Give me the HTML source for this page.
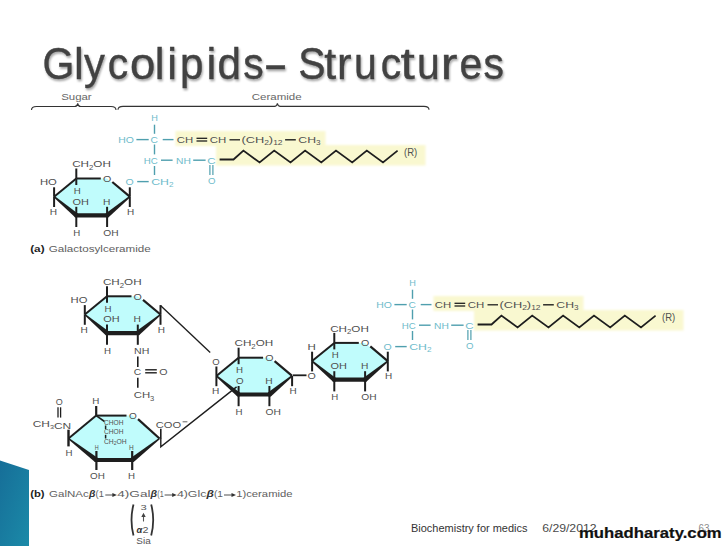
<!DOCTYPE html>
<html><head><meta charset="utf-8"><style>
html,body{margin:0;padding:0;background:#fff;}
body{width:728px;height:546px;overflow:hidden;position:relative;font-family:"Liberation Sans", sans-serif;}
svg{position:absolute;left:0;top:0;}
</style></head><body>
<svg width="728" height="546" viewBox="0 0 728 546" font-family='"Liberation Sans", sans-serif'>
<defs>
<linearGradient id="teal" x1="0" y1="0" x2="1" y2="1">
<stop offset="0" stop-color="#166e98"/><stop offset="1" stop-color="#1b8aa8"/>
</linearGradient>
<filter id="sh" x="-5%" y="-20%" width="110%" height="140%"><feGaussianBlur in="SourceAlpha" stdDeviation="1.2"/><feOffset dx="1" dy="2"/><feComponentTransfer><feFuncA type="linear" slope="0.35"/></feComponentTransfer><feMerge><feMergeNode/><feMergeNode in="SourceGraphic"/></feMerge></filter>
<filter id="yb" x="-5%" y="-30%" width="110%" height="160%"><feGaussianBlur stdDeviation="1.3"/></filter>
</defs>

<polygon points="0,460.5 29,470 29,546 0,546" fill="url(#teal)"/>
<g filter="url(#sh)" fill="#424242" stroke="#424242" stroke-width="0.4" font-size="44">
<text transform="translate(42.41,78.5) scale(0.930,1)">G</text>
<text transform="translate(73.90,78.5) scale(1.000,1)">l</text>
<text transform="translate(84.01,78.5) scale(0.949,1)">y</text>
<text transform="translate(107.79,78.5) scale(0.930,1)">c</text>
<text transform="translate(130.04,78.5) scale(1.034,1)">o</text>
<text transform="translate(154.65,78.5) scale(1.000,1)">l</text>
<text transform="translate(167.25,78.5) scale(1.000,1)">i</text>
<text transform="translate(180.01,78.5) scale(0.959,1)">p</text>
<text transform="translate(206.55,78.5) scale(1.000,1)">i</text>
<text transform="translate(217.57,78.5) scale(0.959,1)">d</text>
<text transform="translate(243.30,78.5) scale(0.930,1)">s</text>
<text transform="translate(263.32,78.5) scale(1.689,1)">-</text>
<text transform="translate(298.27,78.5) scale(0.930,1)">S</text>
<text transform="translate(324.32,78.5) scale(0.973,1)">t</text>
<text transform="translate(336.93,78.5) scale(0.991,1)">r</text>
<text transform="translate(354.10,78.5) scale(0.930,1)">u</text>
<text transform="translate(380.64,78.5) scale(0.930,1)">c</text>
<text transform="translate(400.58,78.5) scale(1.171,1)">t</text>
<text transform="translate(417.10,78.5) scale(0.930,1)">u</text>
<text transform="translate(440.80,78.5) scale(1.138,1)">r</text>
<text transform="translate(459.60,78.5) scale(0.930,1)">e</text>
<text transform="translate(483.55,78.5) scale(0.930,1)">s</text>
</g>
<path d="M31.5,110.0 Q31.5,106.5 36.5,106.5 L74.7,106.5 Q77.2,106.5 77.7,103.3 Q78.2,106.5 80.7,106.5 L111,106.5 Q116,106.5 116,110.0" fill="none" stroke="#333" stroke-width="1.1"/>
<path d="M118,109.8 Q118,106.4 123,106.4 L274.4,106.4 Q276.9,106.4 277.4,103.4 Q277.9,106.4 280.4,106.4 L424,106.4 Q429,106.4 429,109.8" fill="none" stroke="#333" stroke-width="1.1"/>
<text x="61.2" y="100.0" font-size="9.5" fill="#666" font-weight="normal" textLength="30.5" lengthAdjust="spacingAndGlyphs" >Sugar</text>
<text x="251.7" y="100.1" font-size="9.5" fill="#666" font-weight="normal" textLength="49.9" lengthAdjust="spacingAndGlyphs" >Ceramide</text>
<g filter="url(#yb)"><rect x="175.5" y="131" width="150" height="15" fill="#f9f8d0"/>
<rect x="216" y="145" width="209.5" height="20.5" fill="#f9f8d0"/></g>
<text x="151.2" y="121.4" font-size="9.8" fill="#6fbccb" font-weight="normal" textLength="6.6" lengthAdjust="spacingAndGlyphs" >H</text>
<line x1="154.5" y1="124.7" x2="154.5" y2="133.8" stroke="#4f9fae" stroke-width="1.4" stroke-linecap="butt"/>
<text x="118.2" y="142.9" font-size="9.8" fill="#6fbccb" font-weight="normal" textLength="15.7" lengthAdjust="spacingAndGlyphs" >HO</text>
<line x1="136.4" y1="139.6" x2="148.7" y2="139.6" stroke="#4f9fae" stroke-width="1.4" stroke-linecap="butt"/>
<text x="150.4" y="142.9" font-size="9.8" fill="#6fbccb" font-weight="normal" textLength="7.4" lengthAdjust="spacingAndGlyphs" >C</text>
<line x1="162.7" y1="139.6" x2="173.5" y2="139.6" stroke="#4f9fae" stroke-width="1.4" stroke-linecap="butt"/>
<text x="176.8" y="142.9" font-size="9.8" fill="#505050" font-weight="normal" textLength="16.4" lengthAdjust="spacingAndGlyphs" >CH</text>
<line x1="196.5" y1="138.3" x2="207.2" y2="138.3" stroke="#1e1e1e" stroke-width="1.3" stroke-linecap="butt"/>
<line x1="196.5" y1="141.0" x2="207.2" y2="141.0" stroke="#1e1e1e" stroke-width="1.3" stroke-linecap="butt"/>
<text x="209.7" y="142.9" font-size="9.8" fill="#505050" font-weight="normal" textLength="16.5" lengthAdjust="spacingAndGlyphs" >CH</text>
<line x1="229.5" y1="139.8" x2="240.0" y2="139.8" stroke="#1e1e1e" stroke-width="1.3" stroke-linecap="butt"/>
<text x="241.4" y="142.9" font-size="9.8" fill="#505050" font-weight="normal" textLength="41.2" lengthAdjust="spacingAndGlyphs" >(CH<tspan dy="2.5" font-size="6.5">2</tspan><tspan dy="-2.5">)<tspan dy="2.5" font-size="6.5">12</tspan><tspan dy="-2.5"></tspan></tspan></text>
<line x1="285.1" y1="139.8" x2="295.8" y2="139.8" stroke="#1e1e1e" stroke-width="1.4" stroke-linecap="butt"/>
<text x="298.3" y="142.9" font-size="9.8" fill="#505050" font-weight="normal" textLength="22.2" lengthAdjust="spacingAndGlyphs" >CH<tspan dy="2.5" font-size="6.5">3</tspan><tspan dy="-2.5"></tspan></text>
<line x1="154.5" y1="144.5" x2="154.5" y2="154.4" stroke="#4f9fae" stroke-width="1.4" stroke-linecap="butt"/>
<text x="143.8" y="163.5" font-size="9.8" fill="#6fbccb" font-weight="normal" textLength="14.0" lengthAdjust="spacingAndGlyphs" >HC</text>
<line x1="161.0" y1="160.2" x2="172.6" y2="160.2" stroke="#4f9fae" stroke-width="1.4" stroke-linecap="butt"/>
<text x="176.0" y="163.5" font-size="9.8" fill="#6fbccb" font-weight="normal" textLength="14.8" lengthAdjust="spacingAndGlyphs" >NH</text>
<line x1="193.2" y1="160.2" x2="205.6" y2="160.2" stroke="#4f9fae" stroke-width="1.4" stroke-linecap="butt"/>
<text x="207.2" y="163.5" font-size="9.8" fill="#6fbccb" font-weight="normal" textLength="8.3" lengthAdjust="spacingAndGlyphs" >C</text>
<line x1="209.9" y1="165.1" x2="209.9" y2="175.0" stroke="#4f9fae" stroke-width="1.2" stroke-linecap="butt"/>
<line x1="212.9" y1="165.1" x2="212.9" y2="175.0" stroke="#4f9fae" stroke-width="1.2" stroke-linecap="butt"/>
<text x="208.0" y="184.0" font-size="9.8" fill="#6fbccb" font-weight="normal" textLength="7.5" lengthAdjust="spacingAndGlyphs" >O</text>
<line x1="154.5" y1="166.0" x2="154.5" y2="175.0" stroke="#4f9fae" stroke-width="1.4" stroke-linecap="butt"/>
<line x1="137.2" y1="181.6" x2="148.7" y2="181.6" stroke="#4f9fae" stroke-width="1.4" stroke-linecap="butt"/>
<text x="151.2" y="184.9" font-size="9.8" fill="#6fbccb" font-weight="normal" textLength="22.3" lengthAdjust="spacingAndGlyphs" >CH<tspan dy="2.5" font-size="6.5">2</tspan><tspan dy="-2.5"></tspan></text>
<path d="M219.6,159.5 L233.5,159.5 L243.4,150.6 L259.6,162.4 L274.2,150.6 L290.5,162.4 L305.1,150.6 L321.3,162.4 L336.0,150.6 L352.2,162.4 L366.8,150.6 L383.0,162.4 L397.6,150.6" fill="none" stroke="#1e1e1e" stroke-width="1.8" stroke-linejoin="miter"/>
<text x="404.0" y="155.8" font-size="10.5" fill="#505050" font-weight="normal" textLength="13.2" lengthAdjust="spacingAndGlyphs" >(R)</text>
<polygon points="76.3,178.5 106.8,178.5 129.8,196.7 107.1,215.3 76.3,215.3 54.1,196.7" fill="#c0fcfc"/>
<line x1="76.3" y1="178.5" x2="100.8" y2="178.5" stroke="#1e1e1e" stroke-width="2.0" stroke-linecap="butt"/>
<line x1="112.3" y1="182.0" x2="129.8" y2="196.7" stroke="#1e1e1e" stroke-width="2.2" stroke-linecap="butt"/>
<polygon points="129.3,196.1 105.6,213.4 108.6,217.2 130.3,197.3" fill="#1e1e1e"/>
<line x1="108.6" y1="215.3" x2="74.8" y2="215.3" stroke="#1e1e1e" stroke-width="4.2" stroke-linecap="butt"/>
<polygon points="77.8,213.5 54.6,196.1 53.6,197.3 74.8,217.1" fill="#1e1e1e"/>
<line x1="54.1" y1="196.7" x2="76.3" y2="178.5" stroke="#1e1e1e" stroke-width="2.0" stroke-linecap="butt"/>
<circle cx="107.1" cy="215.3" r="2.1" fill="#1e1e1e"/>
<circle cx="76.3" cy="215.3" r="2.1" fill="#1e1e1e"/>
<text x="102.9" y="181.9" font-size="9.8" fill="#505050" font-weight="normal" textLength="8.3" lengthAdjust="spacingAndGlyphs" >O</text>
<line x1="76.3" y1="168.5" x2="76.3" y2="178.5" stroke="#1e1e1e" stroke-width="2.0" stroke-linecap="butt"/>
<line x1="76.3" y1="178.5" x2="76.3" y2="185.0" stroke="#1e1e1e" stroke-width="2.0" stroke-linecap="butt"/>
<line x1="54.1" y1="187.3" x2="54.1" y2="196.7" stroke="#1e1e1e" stroke-width="2.0" stroke-linecap="butt"/>
<line x1="54.1" y1="196.7" x2="54.1" y2="207.0" stroke="#1e1e1e" stroke-width="2.0" stroke-linecap="butt"/>
<line x1="129.8" y1="187.3" x2="129.8" y2="196.7" stroke="#1e1e1e" stroke-width="2.0" stroke-linecap="butt"/>
<line x1="129.8" y1="196.7" x2="129.8" y2="207.0" stroke="#1e1e1e" stroke-width="2.0" stroke-linecap="butt"/>
<line x1="76.3" y1="206.8" x2="76.3" y2="215.3" stroke="#1e1e1e" stroke-width="2.0" stroke-linecap="butt"/>
<line x1="76.3" y1="215.3" x2="76.3" y2="227.0" stroke="#1e1e1e" stroke-width="2.0" stroke-linecap="butt"/>
<line x1="107.1" y1="206.8" x2="107.1" y2="215.3" stroke="#1e1e1e" stroke-width="2.0" stroke-linecap="butt"/>
<line x1="107.1" y1="215.3" x2="107.1" y2="227.0" stroke="#1e1e1e" stroke-width="2.0" stroke-linecap="butt"/>
<text x="72.2" y="167.2" font-size="9.8" fill="#505050" font-weight="normal" textLength="38.7" lengthAdjust="spacingAndGlyphs" >CH<tspan dy="2.5" font-size="6.5">2</tspan><tspan dy="-2.5">OH</tspan></text>
<text x="39.9" y="185.3" font-size="9.8" fill="#505050" font-weight="normal" textLength="16.9" lengthAdjust="spacingAndGlyphs" >HO</text>
<text x="49.8" y="215.0" font-size="9.8" fill="#505050" font-weight="normal" textLength="7.3" lengthAdjust="spacingAndGlyphs" >H</text>
<text x="73.7" y="193.9" font-size="9.8" fill="#505050" font-weight="normal" textLength="7.0" lengthAdjust="spacingAndGlyphs" >H</text>
<text x="72.5" y="204.6" font-size="9.8" fill="#505050" font-weight="normal" textLength="16.4" lengthAdjust="spacingAndGlyphs" >OH</text>
<text x="102.9" y="204.6" font-size="9.8" fill="#505050" font-weight="normal" textLength="7.4" lengthAdjust="spacingAndGlyphs" >H</text>
<text x="127.1" y="215.0" font-size="9.8" fill="#505050" font-weight="normal" textLength="7.2" lengthAdjust="spacingAndGlyphs" >H</text>
<text x="73.3" y="235.9" font-size="9.8" fill="#505050" font-weight="normal" textLength="7.0" lengthAdjust="spacingAndGlyphs" >H</text>
<text x="103.3" y="235.9" font-size="9.8" fill="#505050" font-weight="normal" textLength="15.3" lengthAdjust="spacingAndGlyphs" >OH</text>
<text x="125.5" y="185.3" font-size="9.8" fill="#6fbccb" font-weight="normal" textLength="8.2" lengthAdjust="spacingAndGlyphs" >O</text>
<text x="30.2" y="252.3" font-size="9.5" fill="#222" font-weight="bold" textLength="14.4" lengthAdjust="spacingAndGlyphs" >(a)</text>
<text x="48.7" y="252.4" font-size="9.5" fill="#606060" font-weight="normal" textLength="102.0" lengthAdjust="spacingAndGlyphs" >Galactosylceramide</text>
<g filter="url(#yb)"><rect x="433.5" y="296" width="150" height="15" fill="#f9f8d0"/>
<rect x="474" y="310" width="209.5" height="20.5" fill="#f9f8d0"/></g>
<text x="409.2" y="286.4" font-size="9.8" fill="#6fbccb" font-weight="normal" textLength="6.6" lengthAdjust="spacingAndGlyphs" >H</text>
<line x1="412.5" y1="289.7" x2="412.5" y2="298.8" stroke="#4f9fae" stroke-width="1.4" stroke-linecap="butt"/>
<text x="376.2" y="307.9" font-size="9.8" fill="#6fbccb" font-weight="normal" textLength="15.7" lengthAdjust="spacingAndGlyphs" >HO</text>
<line x1="394.4" y1="304.6" x2="406.7" y2="304.6" stroke="#4f9fae" stroke-width="1.4" stroke-linecap="butt"/>
<text x="408.4" y="307.9" font-size="9.8" fill="#6fbccb" font-weight="normal" textLength="7.4" lengthAdjust="spacingAndGlyphs" >C</text>
<line x1="420.7" y1="304.6" x2="431.5" y2="304.6" stroke="#4f9fae" stroke-width="1.4" stroke-linecap="butt"/>
<text x="434.8" y="307.9" font-size="9.8" fill="#505050" font-weight="normal" textLength="16.4" lengthAdjust="spacingAndGlyphs" >CH</text>
<line x1="454.5" y1="303.3" x2="465.2" y2="303.3" stroke="#1e1e1e" stroke-width="1.3" stroke-linecap="butt"/>
<line x1="454.5" y1="306.0" x2="465.2" y2="306.0" stroke="#1e1e1e" stroke-width="1.3" stroke-linecap="butt"/>
<text x="467.7" y="307.9" font-size="9.8" fill="#505050" font-weight="normal" textLength="16.5" lengthAdjust="spacingAndGlyphs" >CH</text>
<line x1="487.5" y1="304.8" x2="498.0" y2="304.8" stroke="#1e1e1e" stroke-width="1.3" stroke-linecap="butt"/>
<text x="499.4" y="307.9" font-size="9.8" fill="#505050" font-weight="normal" textLength="41.2" lengthAdjust="spacingAndGlyphs" >(CH<tspan dy="2.5" font-size="6.5">2</tspan><tspan dy="-2.5">)<tspan dy="2.5" font-size="6.5">12</tspan><tspan dy="-2.5"></tspan></tspan></text>
<line x1="543.1" y1="304.8" x2="553.8" y2="304.8" stroke="#1e1e1e" stroke-width="1.4" stroke-linecap="butt"/>
<text x="556.3" y="307.9" font-size="9.8" fill="#505050" font-weight="normal" textLength="22.2" lengthAdjust="spacingAndGlyphs" >CH<tspan dy="2.5" font-size="6.5">3</tspan><tspan dy="-2.5"></tspan></text>
<line x1="412.5" y1="309.5" x2="412.5" y2="319.4" stroke="#4f9fae" stroke-width="1.4" stroke-linecap="butt"/>
<text x="401.8" y="328.5" font-size="9.8" fill="#6fbccb" font-weight="normal" textLength="14.0" lengthAdjust="spacingAndGlyphs" >HC</text>
<line x1="419.0" y1="325.2" x2="430.6" y2="325.2" stroke="#4f9fae" stroke-width="1.4" stroke-linecap="butt"/>
<text x="434.0" y="328.5" font-size="9.8" fill="#6fbccb" font-weight="normal" textLength="14.8" lengthAdjust="spacingAndGlyphs" >NH</text>
<line x1="451.2" y1="325.2" x2="463.6" y2="325.2" stroke="#4f9fae" stroke-width="1.4" stroke-linecap="butt"/>
<text x="465.2" y="328.5" font-size="9.8" fill="#6fbccb" font-weight="normal" textLength="8.3" lengthAdjust="spacingAndGlyphs" >C</text>
<line x1="467.9" y1="330.1" x2="467.9" y2="340.0" stroke="#4f9fae" stroke-width="1.2" stroke-linecap="butt"/>
<line x1="470.9" y1="330.1" x2="470.9" y2="340.0" stroke="#4f9fae" stroke-width="1.2" stroke-linecap="butt"/>
<text x="466.0" y="349.0" font-size="9.8" fill="#6fbccb" font-weight="normal" textLength="7.5" lengthAdjust="spacingAndGlyphs" >O</text>
<line x1="412.5" y1="331.0" x2="412.5" y2="340.0" stroke="#4f9fae" stroke-width="1.4" stroke-linecap="butt"/>
<line x1="395.2" y1="346.6" x2="406.7" y2="346.6" stroke="#4f9fae" stroke-width="1.4" stroke-linecap="butt"/>
<text x="409.2" y="349.9" font-size="9.8" fill="#6fbccb" font-weight="normal" textLength="22.3" lengthAdjust="spacingAndGlyphs" >CH<tspan dy="2.5" font-size="6.5">2</tspan><tspan dy="-2.5"></tspan></text>
<path d="M477.6,324.5 L491.5,324.5 L501.4,315.6 L517.6,327.4 L532.2,315.6 L548.5,327.4 L563.1,315.6 L579.3,327.4 L594.0,315.6 L610.2,327.4 L624.8,315.6 L641.0,327.4 L655.6,315.6" fill="none" stroke="#1e1e1e" stroke-width="1.8" stroke-linejoin="miter"/>
<text x="662.0" y="320.8" font-size="10.5" fill="#505050" font-weight="normal" textLength="13.2" lengthAdjust="spacingAndGlyphs" >(R)</text>
<polygon points="334.3,342.9 364.8,342.9 387.8,361.1 365.1,379.7 334.3,379.7 312.1,361.1" fill="#c0fcfc"/>
<line x1="334.3" y1="342.9" x2="358.8" y2="342.9" stroke="#1e1e1e" stroke-width="2.0" stroke-linecap="butt"/>
<line x1="370.3" y1="346.4" x2="387.8" y2="361.1" stroke="#1e1e1e" stroke-width="2.2" stroke-linecap="butt"/>
<polygon points="387.3,360.5 363.6,377.8 366.6,381.6 388.3,361.7" fill="#1e1e1e"/>
<line x1="366.6" y1="379.7" x2="332.8" y2="379.7" stroke="#1e1e1e" stroke-width="4.2" stroke-linecap="butt"/>
<polygon points="335.8,377.9 312.6,360.5 311.6,361.7 332.8,381.5" fill="#1e1e1e"/>
<line x1="312.1" y1="361.1" x2="334.3" y2="342.9" stroke="#1e1e1e" stroke-width="2.0" stroke-linecap="butt"/>
<circle cx="365.1" cy="379.7" r="2.1" fill="#1e1e1e"/>
<circle cx="334.3" cy="379.7" r="2.1" fill="#1e1e1e"/>
<text x="360.9" y="346.3" font-size="9.8" fill="#505050" font-weight="normal" textLength="8.3" lengthAdjust="spacingAndGlyphs" >O</text>
<line x1="334.3" y1="332.9" x2="334.3" y2="342.9" stroke="#1e1e1e" stroke-width="2.0" stroke-linecap="butt"/>
<line x1="334.3" y1="342.9" x2="334.3" y2="349.4" stroke="#1e1e1e" stroke-width="2.0" stroke-linecap="butt"/>
<line x1="312.1" y1="351.7" x2="312.1" y2="361.1" stroke="#1e1e1e" stroke-width="2.0" stroke-linecap="butt"/>
<line x1="312.1" y1="361.1" x2="312.1" y2="371.4" stroke="#1e1e1e" stroke-width="2.0" stroke-linecap="butt"/>
<line x1="387.8" y1="351.7" x2="387.8" y2="361.1" stroke="#1e1e1e" stroke-width="2.0" stroke-linecap="butt"/>
<line x1="387.8" y1="361.1" x2="387.8" y2="371.4" stroke="#1e1e1e" stroke-width="2.0" stroke-linecap="butt"/>
<line x1="334.3" y1="371.2" x2="334.3" y2="379.7" stroke="#1e1e1e" stroke-width="2.0" stroke-linecap="butt"/>
<line x1="334.3" y1="379.7" x2="334.3" y2="391.4" stroke="#1e1e1e" stroke-width="2.0" stroke-linecap="butt"/>
<line x1="365.1" y1="371.2" x2="365.1" y2="379.7" stroke="#1e1e1e" stroke-width="2.0" stroke-linecap="butt"/>
<line x1="365.1" y1="379.7" x2="365.1" y2="391.4" stroke="#1e1e1e" stroke-width="2.0" stroke-linecap="butt"/>
<text x="330.2" y="331.6" font-size="9.8" fill="#505050" font-weight="normal" textLength="38.7" lengthAdjust="spacingAndGlyphs" >CH<tspan dy="2.5" font-size="6.5">2</tspan><tspan dy="-2.5">OH</tspan></text>
<text x="307.5" y="349.7" font-size="9.8" fill="#505050" font-weight="normal" textLength="8.3" lengthAdjust="spacingAndGlyphs" >H</text>
<text x="307.5" y="379.4" font-size="9.8" fill="#505050" font-weight="normal" textLength="8.3" lengthAdjust="spacingAndGlyphs" >O</text>
<text x="331.7" y="358.3" font-size="9.8" fill="#505050" font-weight="normal" textLength="7.0" lengthAdjust="spacingAndGlyphs" >H</text>
<text x="330.5" y="369.0" font-size="9.8" fill="#505050" font-weight="normal" textLength="16.4" lengthAdjust="spacingAndGlyphs" >OH</text>
<text x="360.9" y="369.0" font-size="9.8" fill="#505050" font-weight="normal" textLength="7.4" lengthAdjust="spacingAndGlyphs" >H</text>
<text x="385.1" y="379.4" font-size="9.8" fill="#505050" font-weight="normal" textLength="7.2" lengthAdjust="spacingAndGlyphs" >H</text>
<text x="331.3" y="400.3" font-size="9.8" fill="#505050" font-weight="normal" textLength="7.0" lengthAdjust="spacingAndGlyphs" >H</text>
<text x="361.3" y="400.3" font-size="9.8" fill="#505050" font-weight="normal" textLength="15.3" lengthAdjust="spacingAndGlyphs" >OH</text>
<text x="383.5" y="349.7" font-size="9.8" fill="#6fbccb" font-weight="normal" textLength="8.2" lengthAdjust="spacingAndGlyphs" >O</text>
<polygon points="238.6,357.7 269.1,357.7 292.1,375.9 269.4,394.5 238.6,394.5 216.4,375.9" fill="#c0fcfc"/>
<line x1="238.6" y1="357.7" x2="263.1" y2="357.7" stroke="#1e1e1e" stroke-width="2.0" stroke-linecap="butt"/>
<line x1="274.6" y1="361.2" x2="292.1" y2="375.9" stroke="#1e1e1e" stroke-width="2.2" stroke-linecap="butt"/>
<polygon points="291.6,375.3 267.9,392.6 270.9,396.4 292.6,376.5" fill="#1e1e1e"/>
<line x1="270.9" y1="394.5" x2="237.1" y2="394.5" stroke="#1e1e1e" stroke-width="4.2" stroke-linecap="butt"/>
<polygon points="240.1,392.7 216.9,375.3 215.9,376.5 237.1,396.3" fill="#1e1e1e"/>
<line x1="216.4" y1="375.9" x2="238.6" y2="357.7" stroke="#1e1e1e" stroke-width="2.0" stroke-linecap="butt"/>
<circle cx="269.4" cy="394.5" r="2.1" fill="#1e1e1e"/>
<circle cx="238.6" cy="394.5" r="2.1" fill="#1e1e1e"/>
<text x="265.2" y="361.1" font-size="9.8" fill="#505050" font-weight="normal" textLength="8.3" lengthAdjust="spacingAndGlyphs" >O</text>
<line x1="238.6" y1="347.7" x2="238.6" y2="357.7" stroke="#1e1e1e" stroke-width="2.0" stroke-linecap="butt"/>
<line x1="238.6" y1="357.7" x2="238.6" y2="364.2" stroke="#1e1e1e" stroke-width="2.0" stroke-linecap="butt"/>
<line x1="216.4" y1="366.5" x2="216.4" y2="375.9" stroke="#1e1e1e" stroke-width="2.0" stroke-linecap="butt"/>
<line x1="216.4" y1="375.9" x2="216.4" y2="386.2" stroke="#1e1e1e" stroke-width="2.0" stroke-linecap="butt"/>
<line x1="292.1" y1="375.9" x2="292.1" y2="386.2" stroke="#1e1e1e" stroke-width="2.0" stroke-linecap="butt"/>
<line x1="238.6" y1="386.0" x2="238.6" y2="394.5" stroke="#1e1e1e" stroke-width="2.0" stroke-linecap="butt"/>
<line x1="238.6" y1="394.5" x2="238.6" y2="406.2" stroke="#1e1e1e" stroke-width="2.0" stroke-linecap="butt"/>
<line x1="269.4" y1="386.0" x2="269.4" y2="394.5" stroke="#1e1e1e" stroke-width="2.0" stroke-linecap="butt"/>
<line x1="269.4" y1="394.5" x2="269.4" y2="406.2" stroke="#1e1e1e" stroke-width="2.0" stroke-linecap="butt"/>
<text x="234.5" y="346.4" font-size="9.8" fill="#505050" font-weight="normal" textLength="38.7" lengthAdjust="spacingAndGlyphs" >CH<tspan dy="2.5" font-size="6.5">2</tspan><tspan dy="-2.5">OH</tspan></text>
<text x="212.3" y="364.5" font-size="9.8" fill="#505050" font-weight="normal" textLength="7.4" lengthAdjust="spacingAndGlyphs" >O</text>
<text x="212.1" y="394.2" font-size="9.8" fill="#505050" font-weight="normal" textLength="7.3" lengthAdjust="spacingAndGlyphs" >H</text>
<text x="236.0" y="373.1" font-size="9.8" fill="#505050" font-weight="normal" textLength="7.0" lengthAdjust="spacingAndGlyphs" >H</text>
<text x="236.0" y="383.8" font-size="9.8" fill="#505050" font-weight="normal" textLength="7.6" lengthAdjust="spacingAndGlyphs" >O</text>
<text x="265.2" y="383.8" font-size="9.8" fill="#505050" font-weight="normal" textLength="7.4" lengthAdjust="spacingAndGlyphs" >H</text>
<text x="289.4" y="394.2" font-size="9.8" fill="#505050" font-weight="normal" textLength="7.2" lengthAdjust="spacingAndGlyphs" >H</text>
<text x="235.6" y="415.1" font-size="9.8" fill="#505050" font-weight="normal" textLength="7.0" lengthAdjust="spacingAndGlyphs" >H</text>
<text x="265.6" y="415.1" font-size="9.8" fill="#505050" font-weight="normal" textLength="15.3" lengthAdjust="spacingAndGlyphs" >OH</text>
<line x1="293.0" y1="375.3" x2="306.5" y2="375.3" stroke="#1e1e1e" stroke-width="1.8" stroke-linecap="butt"/>
<polygon points="107.0,296.3 137.5,296.3 160.5,314.5 137.8,333.1 107.0,333.1 84.8,314.5" fill="#c0fcfc"/>
<line x1="107.0" y1="296.3" x2="131.5" y2="296.3" stroke="#1e1e1e" stroke-width="2.0" stroke-linecap="butt"/>
<line x1="143.0" y1="299.8" x2="160.5" y2="314.5" stroke="#1e1e1e" stroke-width="2.2" stroke-linecap="butt"/>
<polygon points="160.0,313.9 136.3,331.2 139.3,335.0 161.0,315.1" fill="#1e1e1e"/>
<line x1="139.3" y1="333.1" x2="105.5" y2="333.1" stroke="#1e1e1e" stroke-width="4.2" stroke-linecap="butt"/>
<polygon points="108.5,331.3 85.3,313.9 84.3,315.1 105.5,334.9" fill="#1e1e1e"/>
<line x1="84.8" y1="314.5" x2="107.0" y2="296.3" stroke="#1e1e1e" stroke-width="2.0" stroke-linecap="butt"/>
<circle cx="137.8" cy="333.1" r="2.1" fill="#1e1e1e"/>
<circle cx="107.0" cy="333.1" r="2.1" fill="#1e1e1e"/>
<text x="133.6" y="299.7" font-size="9.8" fill="#505050" font-weight="normal" textLength="8.3" lengthAdjust="spacingAndGlyphs" >O</text>
<line x1="107.0" y1="286.3" x2="107.0" y2="296.3" stroke="#1e1e1e" stroke-width="2.0" stroke-linecap="butt"/>
<line x1="107.0" y1="296.3" x2="107.0" y2="302.8" stroke="#1e1e1e" stroke-width="2.0" stroke-linecap="butt"/>
<line x1="84.8" y1="305.1" x2="84.8" y2="314.5" stroke="#1e1e1e" stroke-width="2.0" stroke-linecap="butt"/>
<line x1="84.8" y1="314.5" x2="84.8" y2="324.8" stroke="#1e1e1e" stroke-width="2.0" stroke-linecap="butt"/>
<line x1="160.5" y1="305.1" x2="160.5" y2="314.5" stroke="#1e1e1e" stroke-width="2.0" stroke-linecap="butt"/>
<line x1="160.5" y1="314.5" x2="160.5" y2="324.8" stroke="#1e1e1e" stroke-width="2.0" stroke-linecap="butt"/>
<line x1="107.0" y1="324.6" x2="107.0" y2="333.1" stroke="#1e1e1e" stroke-width="2.0" stroke-linecap="butt"/>
<line x1="107.0" y1="333.1" x2="107.0" y2="344.8" stroke="#1e1e1e" stroke-width="2.0" stroke-linecap="butt"/>
<line x1="137.8" y1="324.6" x2="137.8" y2="333.1" stroke="#1e1e1e" stroke-width="2.0" stroke-linecap="butt"/>
<line x1="137.8" y1="333.1" x2="137.8" y2="344.8" stroke="#1e1e1e" stroke-width="2.0" stroke-linecap="butt"/>
<text x="102.9" y="285.0" font-size="9.8" fill="#505050" font-weight="normal" textLength="38.7" lengthAdjust="spacingAndGlyphs" >CH<tspan dy="2.5" font-size="6.5">2</tspan><tspan dy="-2.5">OH</tspan></text>
<text x="70.6" y="303.1" font-size="9.8" fill="#505050" font-weight="normal" textLength="16.9" lengthAdjust="spacingAndGlyphs" >HO</text>
<text x="80.5" y="332.8" font-size="9.8" fill="#505050" font-weight="normal" textLength="7.3" lengthAdjust="spacingAndGlyphs" >H</text>
<text x="104.4" y="311.7" font-size="9.8" fill="#505050" font-weight="normal" textLength="7.0" lengthAdjust="spacingAndGlyphs" >H</text>
<text x="103.2" y="322.4" font-size="9.8" fill="#505050" font-weight="normal" textLength="16.4" lengthAdjust="spacingAndGlyphs" >OH</text>
<text x="133.6" y="322.4" font-size="9.8" fill="#505050" font-weight="normal" textLength="7.4" lengthAdjust="spacingAndGlyphs" >H</text>
<text x="157.8" y="332.8" font-size="9.8" fill="#505050" font-weight="normal" textLength="7.2" lengthAdjust="spacingAndGlyphs" >H</text>
<text x="104.0" y="353.7" font-size="9.8" fill="#505050" font-weight="normal" textLength="7.0" lengthAdjust="spacingAndGlyphs" >H</text>
<text x="134.0" y="353.7" font-size="9.8" fill="#505050" font-weight="normal" textLength="15.3" lengthAdjust="spacingAndGlyphs" >NH</text>
<line x1="137.8" y1="356.4" x2="137.8" y2="367.1" stroke="#1e1e1e" stroke-width="1.6" stroke-linecap="butt"/>
<text x="133.7" y="375.3" font-size="9.8" fill="#505050" font-weight="normal" textLength="7.4" lengthAdjust="spacingAndGlyphs" >C</text>
<line x1="145.2" y1="369.8" x2="156.8" y2="369.8" stroke="#1e1e1e" stroke-width="1.4" stroke-linecap="butt"/>
<line x1="145.2" y1="372.8" x2="156.8" y2="372.8" stroke="#1e1e1e" stroke-width="1.4" stroke-linecap="butt"/>
<text x="159.2" y="375.3" font-size="9.8" fill="#505050" font-weight="normal" textLength="8.3" lengthAdjust="spacingAndGlyphs" >O</text>
<line x1="137.8" y1="377.8" x2="137.8" y2="387.7" stroke="#1e1e1e" stroke-width="1.6" stroke-linecap="butt"/>
<text x="133.7" y="398.0" font-size="9.8" fill="#505050" font-weight="normal" textLength="20.6" lengthAdjust="spacingAndGlyphs" >CH<tspan dy="2.5" font-size="6.5">3</tspan><tspan dy="-2.5"></tspan></text>
<path d="M160.5,305.5 L210.2,352.5" stroke="#1e1e1e" stroke-width="1.35" fill="none"/>
<path d="M236.6,386.9 L160.8,446.7 L160.8,438" stroke="#1e1e1e" stroke-width="1.4" fill="none"/>
<polygon points="96.2,415.6 132.5,415.6 159.5,438.5 132.2,460.0 96.4,460.0 68.5,438.5" fill="#c0fcfc"/>
<line x1="96.2" y1="415.6" x2="126.5" y2="415.6" stroke="#1e1e1e" stroke-width="2.0" stroke-linecap="butt"/>
<line x1="138.0" y1="419.1" x2="159.5" y2="438.5" stroke="#1e1e1e" stroke-width="2.2" stroke-linecap="butt"/>
<polygon points="159.0,437.9 130.7,458.1 133.7,461.9 160.0,439.1" fill="#1e1e1e"/>
<line x1="133.7" y1="460.0" x2="94.9" y2="460.0" stroke="#1e1e1e" stroke-width="4.2" stroke-linecap="butt"/>
<polygon points="97.9,458.1 69.0,437.9 68.0,439.1 94.9,461.9" fill="#1e1e1e"/>
<line x1="68.5" y1="438.5" x2="96.2" y2="415.6" stroke="#1e1e1e" stroke-width="2.0" stroke-linecap="butt"/>
<circle cx="132.2" cy="460.0" r="2.1" fill="#1e1e1e"/>
<circle cx="96.4" cy="460.0" r="2.1" fill="#1e1e1e"/>
<text x="128.9" y="419.4" font-size="9.8" fill="#505050" font-weight="normal" textLength="7.8" lengthAdjust="spacingAndGlyphs" >O</text>
<line x1="96.2" y1="406.0" x2="96.2" y2="415.6" stroke="#1e1e1e" stroke-width="2.2" stroke-linecap="butt"/>
<text x="92.3" y="404.1" font-size="9.8" fill="#505050" font-weight="normal" textLength="7.1" lengthAdjust="spacingAndGlyphs" >H</text>
<text x="55.8" y="405.4" font-size="9.8" fill="#505050" font-weight="normal" textLength="7.0" lengthAdjust="spacingAndGlyphs" >O</text>
<line x1="58.0" y1="407.3" x2="58.0" y2="417.6" stroke="#1e1e1e" stroke-width="1.3" stroke-linecap="butt"/>
<line x1="60.6" y1="407.3" x2="60.6" y2="417.6" stroke="#1e1e1e" stroke-width="1.3" stroke-linecap="butt"/>
<text x="32.7" y="426.5" font-size="9.8" fill="#505050" font-weight="normal" textLength="38.5" lengthAdjust="spacingAndGlyphs" >CH<tspan dy="2.5" font-size="6">3</tspan><tspan dy="-2.5"></tspan>CN</text>
<line x1="68.5" y1="429.7" x2="68.5" y2="446.4" stroke="#1e1e1e" stroke-width="2.4" stroke-linecap="butt"/>
<text x="65.4" y="456.0" font-size="9.8" fill="#505050" font-weight="normal" textLength="7.0" lengthAdjust="spacingAndGlyphs" >H</text>
<text x="155.8" y="427.5" font-size="9.8" fill="#505050" font-weight="normal" textLength="25.4" lengthAdjust="spacingAndGlyphs" >COO</text>
<line x1="182.6" y1="421.8" x2="187.4" y2="421.8" stroke="#666" stroke-width="1.0" stroke-linecap="butt"/>
<line x1="160.8" y1="428.8" x2="160.8" y2="438.5" stroke="#1e1e1e" stroke-width="1.6" stroke-linecap="butt"/>
<line x1="96.2" y1="415.6" x2="104.5" y2="421.5" stroke="#1e1e1e" stroke-width="1.6" stroke-linecap="butt"/>
<text x="104.0" y="424.9" font-size="6.8" fill="#505050" font-weight="normal" textLength="19.5" lengthAdjust="spacingAndGlyphs" >CHOH</text>
<line x1="105.6" y1="425.5" x2="105.6" y2="429.2" stroke="#1e1e1e" stroke-width="1.5" stroke-linecap="butt"/>
<text x="104.0" y="434.2" font-size="6.8" fill="#505050" font-weight="normal" textLength="19.5" lengthAdjust="spacingAndGlyphs" >CHOH</text>
<line x1="105.6" y1="434.8" x2="105.6" y2="438.5" stroke="#1e1e1e" stroke-width="1.5" stroke-linecap="butt"/>
<text x="104.0" y="443.6" font-size="6.8" fill="#505050" font-weight="normal" textLength="22.6" lengthAdjust="spacingAndGlyphs" >CH<tspan dy="1.5" font-size="5">2</tspan><tspan dy="-1.5">OH</tspan></text>
<text x="94.7" y="449.8" font-size="6.8" fill="#505050" font-weight="normal" textLength="3.9" lengthAdjust="spacingAndGlyphs" >H</text>
<text x="128.9" y="449.8" font-size="6.8" fill="#505050" font-weight="normal" textLength="4.7" lengthAdjust="spacingAndGlyphs" >H</text>
<line x1="96.4" y1="451.0" x2="96.4" y2="470.0" stroke="#1e1e1e" stroke-width="2.2" stroke-linecap="butt"/>
<line x1="132.2" y1="451.0" x2="132.2" y2="470.0" stroke="#1e1e1e" stroke-width="2.2" stroke-linecap="butt"/>
<text x="90.0" y="479.4" font-size="9.8" fill="#505050" font-weight="normal" textLength="14.8" lengthAdjust="spacingAndGlyphs" >OH</text>
<text x="128.1" y="479.4" font-size="9.8" fill="#505050" font-weight="normal" textLength="7.0" lengthAdjust="spacingAndGlyphs" >H</text>
<text x="30.2" y="497.2" font-size="9.5" fill="#222" font-weight="bold" textLength="14.4" lengthAdjust="spacingAndGlyphs" >(b)</text>
<text x="49.1" y="496.8" font-size="9.2" fill="#606060" font-weight="normal" textLength="39.6" lengthAdjust="spacingAndGlyphs" >GalNAc</text>
<text x="88.9" y="496.8" font-size="9.5" fill="#333" font-weight="bold" textLength="6.4" lengthAdjust="spacingAndGlyphs" font-style="italic">β</text>
<text x="95.6" y="496.8" font-size="9.2" fill="#606060" font-weight="normal" textLength="8.3" lengthAdjust="spacingAndGlyphs" >(1</text>
<line x1="105.3" y1="495.0" x2="113.4" y2="495.0" stroke="#606060" stroke-width="1.1" stroke-linecap="butt"/>
<polygon points="112.4,493.0 116.9,495.0 112.4,497.0" fill="#333"/>
<text x="117.2" y="496.8" font-size="9.2" fill="#606060" font-weight="normal" textLength="33.3" lengthAdjust="spacingAndGlyphs" >4)Gal</text>
<text x="150.5" y="496.8" font-size="9.5" fill="#333" font-weight="bold" textLength="6.6" lengthAdjust="spacingAndGlyphs" font-style="italic">β</text>
<text x="157.3" y="496.8" font-size="9.2" fill="#606060" font-weight="normal" textLength="6.4" lengthAdjust="spacingAndGlyphs" >(1</text>
<line x1="164.6" y1="495.0" x2="173.2" y2="495.0" stroke="#606060" stroke-width="1.1" stroke-linecap="butt"/>
<polygon points="172.2,493.0 176.7,495.0 172.2,497.0" fill="#333"/>
<text x="176.9" y="496.8" font-size="9.2" fill="#606060" font-weight="normal" textLength="29.5" lengthAdjust="spacingAndGlyphs" >4)Glc</text>
<text x="206.4" y="496.8" font-size="9.5" fill="#333" font-weight="bold" textLength="7.4" lengthAdjust="spacingAndGlyphs" font-style="italic">β</text>
<text x="214.0" y="496.8" font-size="9.2" fill="#606060" font-weight="normal" textLength="9.0" lengthAdjust="spacingAndGlyphs" >(1</text>
<line x1="224.0" y1="495.0" x2="232.5" y2="495.0" stroke="#606060" stroke-width="1.1" stroke-linecap="butt"/>
<polygon points="231.5,493.0 236.0,495.0 231.5,497.0" fill="#333"/>
<text x="236.2" y="496.8" font-size="9.2" fill="#606060" font-weight="normal" textLength="56.4" lengthAdjust="spacingAndGlyphs" >1)ceramide</text>
<path d="M133.5,504.5 Q129.5,520 133.5,535.5" stroke="#333" stroke-width="1.8" fill="none"/>
<path d="M151.2,504.5 Q155.2,520 151.2,535.5" stroke="#333" stroke-width="1.8" fill="none"/>
<text x="140.4" y="509.9" font-size="8" fill="#555" font-weight="normal" textLength="6.2" lengthAdjust="spacingAndGlyphs" >3</text>
<line x1="143.5" y1="521.5" x2="143.5" y2="515.5" stroke="#555" stroke-width="1.1" stroke-linecap="butt"/>
<polygon points="141.3,517 143.5,512.8 145.7,517" fill="#444"/>
<text x="136.6" y="532.5" font-size="9" fill="#333" font-weight="bold" textLength="5.8" lengthAdjust="spacingAndGlyphs" font-style="italic">α</text>
<text x="142.6" y="532.5" font-size="8.5" fill="#555" font-weight="normal" textLength="6.0" lengthAdjust="spacingAndGlyphs" >2</text>
<text x="136.3" y="543.9" font-size="8.5" fill="#555" font-weight="normal" textLength="14.4" lengthAdjust="spacingAndGlyphs" >Sia</text>
<text x="411.0" y="532.0" font-size="10.5" fill="#333" font-weight="normal" textLength="116.5" lengthAdjust="spacingAndGlyphs" >Biochemistry for medics</text>
<text x="542.2" y="532.2" font-size="10" fill="#4a4a4a" font-weight="normal" textLength="54.4" lengthAdjust="spacingAndGlyphs" >6/29/2012</text>
<text x="698.6" y="532.2" font-size="10" fill="#8a8a8a" font-weight="normal" textLength="10.9" lengthAdjust="spacingAndGlyphs" >63</text>
<text x="579.0" y="538.2" font-size="15.5" fill="#111" font-weight="bold" textLength="142.7" lengthAdjust="spacingAndGlyphs" stroke="#111" stroke-width="0.2">muhadharaty.com</text>
</svg></body></html>
